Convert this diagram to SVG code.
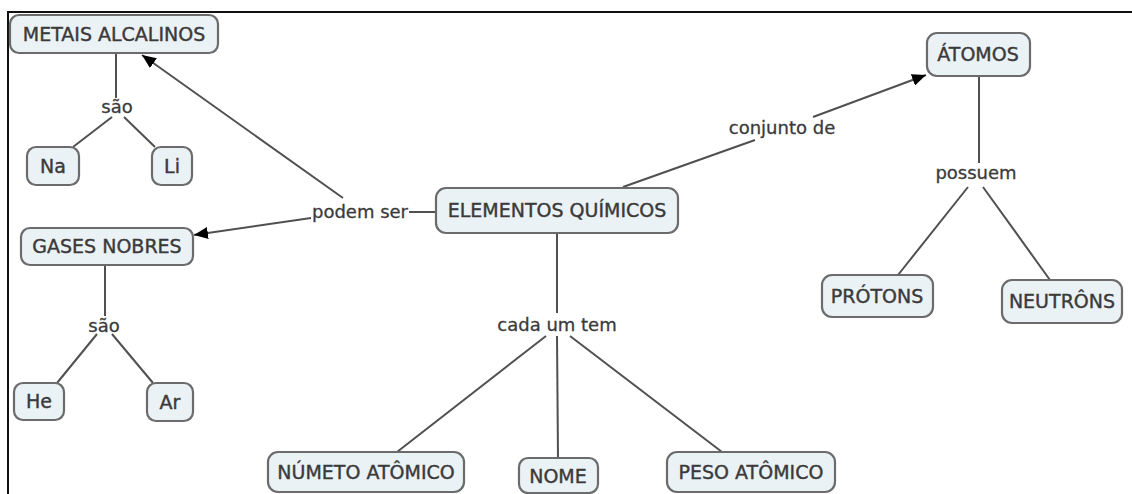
<svg xmlns="http://www.w3.org/2000/svg" width="1132" height="494" viewBox="0 0 1132 494">
<style>
.n rect{fill:#ebf2f5;stroke:#6b6b6b;stroke-width:2.2}
.n text{font-family:"DejaVu Sans",Verdana,sans-serif;font-size:19px;fill:#3a3a3a;stroke:#3a3a3a;stroke-width:0.4;text-anchor:middle}
.l{font-family:"DejaVu Sans",Verdana,sans-serif;font-size:18px;fill:#3a3a3a;stroke:#3a3a3a;stroke-width:0.3;text-anchor:middle}
.c line,.c polyline{stroke:#505050;stroke-width:2;fill:none}
</style>
<defs>
<marker id="ah" viewBox="0 0 14 12" refX="14" refY="6" markerWidth="14" markerHeight="12" markerUnits="userSpaceOnUse" orient="auto">
<path d="M0,0 L14,6 L0,12 z" fill="#000"/>
</marker>
</defs>
<rect x="0" y="0" width="1132" height="494" fill="#fff"/>
<polyline points="8,494 8,12 1132,12" fill="none" stroke="#111" stroke-width="2"/>
<g class="c">
<line x1="116" y1="53" x2="116" y2="98"/>
<line x1="112" y1="117" x2="73" y2="147"/>
<line x1="124" y1="117" x2="155" y2="147"/>
<line x1="343" y1="198" x2="142" y2="55" marker-end="url(#ah)"/>
<line x1="311" y1="218" x2="194" y2="235" marker-end="url(#ah)"/>
<line x1="409" y1="212" x2="436" y2="212"/>
<line x1="105" y1="265" x2="105" y2="316"/>
<line x1="97" y1="334" x2="57" y2="383"/>
<line x1="112" y1="334" x2="153" y2="383"/>
<line x1="557" y1="233" x2="557" y2="313"/>
<line x1="546" y1="336" x2="397" y2="452"/>
<line x1="557" y1="336" x2="558" y2="458"/>
<line x1="570" y1="336" x2="722" y2="452"/>
<line x1="623" y1="187" x2="755" y2="140"/>
<line x1="813" y1="117" x2="926" y2="75" marker-end="url(#ah)"/>
<line x1="979" y1="76" x2="979" y2="163"/>
<line x1="968" y1="187" x2="898" y2="275"/>
<line x1="983" y1="187" x2="1050" y2="280"/>
</g>
<g class="labels">
<text class="l" x="117" y="113">são</text>
<text class="l" x="104" y="332">são</text>
<text class="l" x="360" y="218">podem ser</text>
<text class="l" x="557" y="331">cada um tem</text>
<text class="l" x="782" y="134">conjunto de</text>
<text class="l" x="976" y="179">possuem</text>
</g>
<g class="n" id="metais"><rect x="10" y="15" width="208" height="38" rx="9"/><text x="114" y="41">METAIS ALCALINOS</text></g>
<g class="n" id="na"><rect x="27" y="147" width="52" height="38" rx="9"/><text x="53" y="173">Na</text></g>
<g class="n" id="li"><rect x="152" y="147" width="40" height="38" rx="9"/><text x="172" y="173">Li</text></g>
<g class="n" id="gases"><rect x="21" y="228" width="172" height="37" rx="9"/><text x="107" y="253">GASES NOBRES</text></g>
<g class="n" id="he"><rect x="14" y="383" width="50" height="37" rx="9"/><text x="39" y="408">He</text></g>
<g class="n" id="ar"><rect x="147" y="383" width="46" height="38" rx="9"/><text x="170" y="409">Ar</text></g>
<g class="n" id="elementos"><rect x="436" y="188" width="242" height="45" rx="10"/><text x="557" y="217">ELEMENTOS QUÍMICOS</text></g>
<g class="n" id="numero"><rect x="268" y="452" width="196" height="40" rx="10"/><text x="366" y="479">NÚMETO ATÔMICO</text></g>
<g class="n" id="nome"><rect x="519" y="458" width="79" height="35" rx="9"/><text x="558" y="483">NOME</text></g>
<g class="n" id="peso"><rect x="667" y="452" width="168" height="40" rx="10"/><text x="751" y="479">PESO ATÔMICO</text></g>
<g class="n" id="atomos"><rect x="927" y="33" width="103" height="43" rx="10"/><text x="978" y="61">ÁTOMOS</text></g>
<g class="n" id="protons"><rect x="822" y="275" width="111" height="42" rx="10"/><text x="877" y="303">PRÓTONS</text></g>
<g class="n" id="neutrons"><rect x="1002" y="280" width="120" height="43" rx="10"/><text x="1062" y="308">NEUTRÔNS</text></g>
</svg>
